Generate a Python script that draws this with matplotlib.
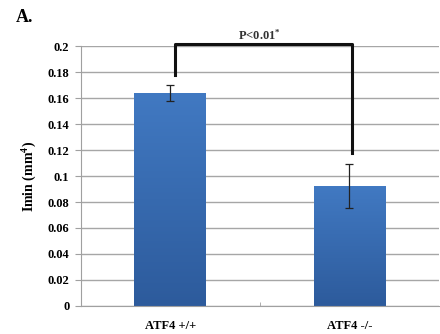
import numpy as np
import matplotlib.pyplot as plt
from matplotlib.ticker import FixedLocator

plt.rcParams["font.family"] = "Liberation Serif"
plt.rcParams["font.weight"] = "bold"
plt.rcParams["axes.labelweight"] = "bold"
plt.rcParams["mathtext.fontset"] = "custom"
plt.rcParams["mathtext.rm"] = "Liberation Serif:bold"
plt.rcParams["mathtext.bf"] = "Liberation Serif:bold"
plt.rcParams["mathtext.default"] = "bf"
plt.rcParams.update({'font.size': 9})

#%% data
groups = ['ATF4 +/+', 'ATF4 -/-']
imin = [0.164, 0.092]
imin_err = [0.006, 0.017]
yticks = [0, 0.02, 0.04, 0.06, 0.08, 0.1, 0.12, 0.14, 0.16, 0.18, 0.2]
ytick_labels = ['0', '0.02', '0.04', '0.06', '0.08', '0.1', '0.12', '0.14', '0.16', '0.18', '0.2']
p_label = 'P<0.01$^{*}$'

#%% plot
fig = plt.figure(figsize=(4.4, 3.34), dpi=100)
ax = fig.add_axes([0.183, 0.084, 0.815, 0.778])

x = np.arange(len(groups))
bars = ax.bar(x, imin, width=0.4, color='#3a6db5', zorder=2)

# gradient fill like excel
grad = np.linspace(0, 1, 100).reshape(-1, 1)
cmap = plt.matplotlib.colors.LinearSegmentedColormap.from_list('b', ['#2d5b9c', '#4179c2'])
for b in bars:
    bx, by = b.get_x(), b.get_y()
    im = ax.imshow(grad, extent=[bx, bx + b.get_width(), by, by + b.get_height()],
                   aspect='auto', cmap=cmap, origin='lower', zorder=2)
    im.set_clip_path(b)

ax.errorbar(x, imin, yerr=imin_err, fmt='none', ecolor='#222222', elinewidth=0.9,
            capsize=3, capthick=0.9, zorder=3)

ax.set_xlim(-0.5, 1.5)
ax.set_ylim(0, 0.2)
ax.set_yticks(yticks)
ax.set_yticklabels(ytick_labels)
ax.set_xticks(x)
ax.set_xticklabels(groups)
ax.xaxis.set_minor_locator(FixedLocator([0.5]))
ax.tick_params(axis='x', which='major', length=0, pad=10)
ax.tick_params(axis='x', which='minor', length=3, color='#a0a0a0', direction='in')
ax.tick_params(axis='y', length=4, color='#a0a0a0', pad=4)
ax.grid(axis='y', color='#a6a6a6', linewidth=1, zorder=0)
ax.set_axisbelow(True)
for s in ['top', 'right']:
    ax.spines[s].set_visible(False)
ax.spines['left'].set_color('#a0a0a0')
ax.spines['bottom'].set_color('#a0a0a0')

ax.set_ylabel('Imin (mm$^{4}$)', fontsize=10, fontweight='bold', labelpad=6)

# significance bracket
ax.plot([0.025, 0.025, 1.015, 1.015], [0.178, 0.2015, 0.2015, 0.118],
        color='#111111', linewidth=2.2, clip_on=False, zorder=4)
ax.text(0.5, 0.2025, p_label, ha='center', va='bottom', fontsize=9, color='#333333')

fig.text(0.035, 0.935, 'A.', fontsize=13, fontweight='bold')

plt.savefig('out.png', dpi=100)
